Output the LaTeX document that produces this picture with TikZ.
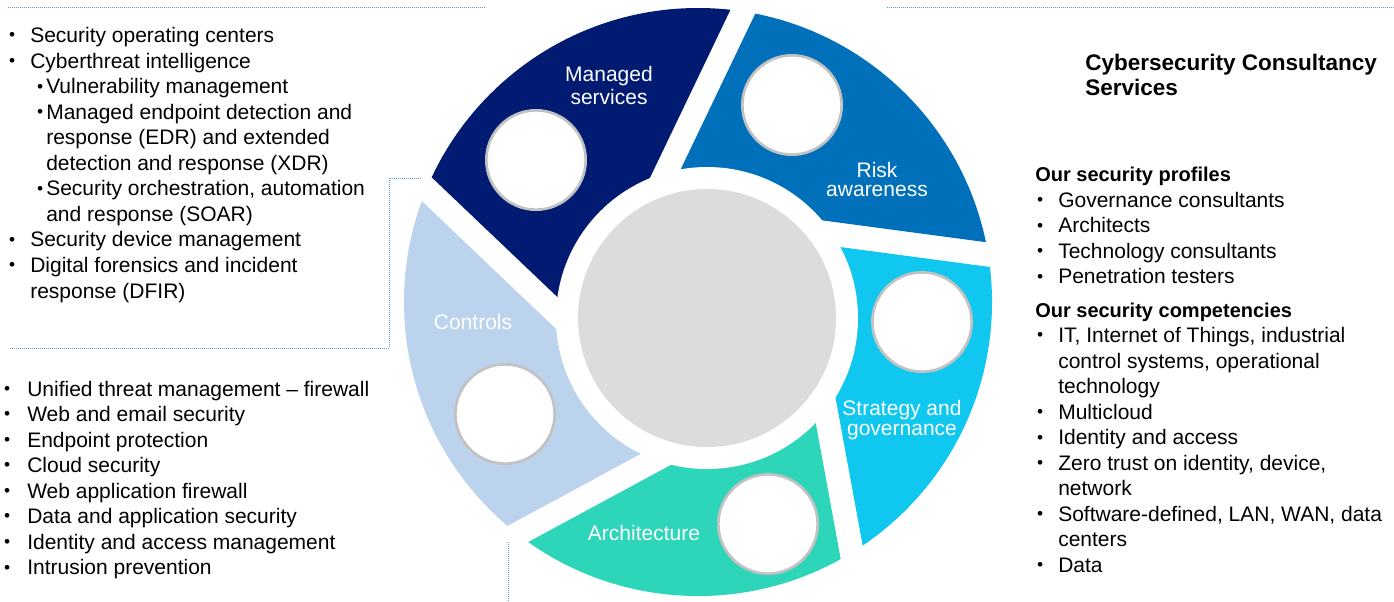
\documentclass[tikz,border=0pt]{standalone}
\usepackage{fontspec}
\setmainfont{Liberation Sans}
\usetikzlibrary{calc}

\definecolor{managednavy}{HTML}{001B71}
\definecolor{riskblue}{HTML}{0070BA}
\definecolor{strategycyan}{HTML}{10C8EF}
\definecolor{archteal}{HTML}{2DD5B9}
\definecolor{controlsblue}{HTML}{BCD3EE}
\definecolor{hubgrey}{HTML}{DCDCDC}
\definecolor{iconrim}{HTML}{C2C2C2}
\definecolor{guideblue}{HTML}{5B9BD5}

% body text and list helpers
\newcommand\bodyfont{\fontsize{15.75}{19.15}\selectfont}
\newcommand\dotmark{\raisebox{1.3pt}{\fontsize{13}{13}\selectfont\textbullet}}
% #1 bullet centre, #2 text start, #3 text
\newcommand\pointline[3]{\makebox[#2][l]{\hspace*{#1}\makebox[0pt][c]{\dotmark}}#3}
\newcommand\contline[2]{\hspace*{#1}#2}

% one ring segment: #1 = angle of its clockwise cut (deg), #2 = colour
\newcommand\ringsegment[2]{%
  \begin{scope}
    \coordinate (v) at ($(hubc)+({-(#1)-116.6}:125.3)$);
    \clip (v) -- ($(v)+({-(#1)}:900)$) -- ($(v)+({-(#1)-36}:1100)$)
          -- ($(v)+({-(#1)-72}:900)$) -- cycle;
    \fill[#2] (outerc) circle[radius=294];
  \end{scope}}

\begin{document}
\begin{tikzpicture}[x=0.75pt,y=-0.75pt,
  icon/.style={circle,draw=iconrim,line width=2pt,fill=white,minimum size=74.5pt,inner sep=0pt},
  hub/.style={circle,fill=hubgrey,minimum size=193.5pt,inner sep=0pt},
  ringlabel/.style={text=white,font=\fontsize{15.75}{18}\selectfont,inner sep=0pt,anchor=base},
  guide/.style={draw=guideblue,line width=0.75pt,dash pattern=on 0.75pt off 0.75pt},
  listnode/.style={inner sep=0pt,anchor=base west}
]
\useasboundingbox (0,0) rectangle (1394,601);

\coordinate (hubc) at (707,318);
\coordinate (outerc) at (698,302);

% ring
\ringsegment{64.4}{managednavy}
\ringsegment{-7.6}{riskblue}
\ringsegment{280.4}{strategycyan}
\ringsegment{208.4}{archteal}
\ringsegment{136.4}{controlsblue}
\fill[white] (hubc) circle[radius=151];
\node[hub] (hub) at (hubc) {};

% icon placeholders
\node[icon] (msicon) at (536,160) {};
\node[icon] (raicon) at (792,105) {};
\node[icon] (sgicon) at (922,322) {};
\node[icon] (aricon) at (768,524) {};
\node[icon] (cticon) at (505,414) {};

% segment labels
\node[ringlabel] (mslabel1) at (609,81.7) {Managed};
\node[ringlabel] (mslabel2) at (609,104) {services};
\node[ringlabel] (ralabel1) at (877,177.5) {Risk};
\node[ringlabel] (ralabel2) at (877,196) {awareness};
\node[ringlabel] (sglabel1) at (902,415) {Strategy and};
\node[ringlabel] (sglabel2) at (902,435) {governance};
\node[ringlabel] (arlabel) at (644,540.7) {Architecture};
\node[ringlabel] (ctlabel) at (473,329) {Controls};

% guide lines
\coordinate (gtl1) at (8,7);     \coordinate (gtl2) at (486,7);
\coordinate (gtr1) at (887,7);   \coordinate (gtr2) at (1394,7);
\coordinate (gl1) at (421,178);  \coordinate (gl2) at (389,178);
\coordinate (gl3) at (389,348);  \coordinate (gl4) at (10,348);
\coordinate (gb1) at (508,542);  \coordinate (gb2) at (508,601);
\draw[guide] (gtl1) -- (gtl2);
\draw[guide] (gtr1) -- (gtr2);
\draw[guide] (gl1) -- (gl2) -- (gl3) -- (gl4);
\draw[guide] (gb1) -- (gb2);

% managed services list
\node[listnode] (mslist) at (0,42.7) {\bodyfont
\begin{tabular}[t]{@{}l@{}}
\pointline{9pt}{22.5pt}{Security operating centers}\\
\pointline{9pt}{22.5pt}{Cyberthreat intelligence}\\
\pointline{30pt}{34.5pt}{Vulnerability management}\\
\pointline{30pt}{34.5pt}{Managed endpoint detection and}\\
\contline{34.5pt}{response (EDR) and extended}\\
\contline{34.5pt}{detection and response (XDR)}\\
\pointline{30pt}{34.5pt}{Security orchestration, automation}\\
\contline{34.5pt}{and response (SOAR)}\\
\pointline{9pt}{22.5pt}{Security device management}\\
\pointline{9pt}{22.5pt}{Digital forensics and incident}\\
\contline{22.5pt}{response (DFIR)}
\end{tabular}};

% controls list
\node[listnode] (ctlist) at (0,396) {\bodyfont
\begin{tabular}[t]{@{}l@{}}
\pointline{5.25pt}{20.25pt}{Unified threat management -- firewall}\\
\pointline{5.25pt}{20.25pt}{Web and email security}\\
\pointline{5.25pt}{20.25pt}{Endpoint protection}\\
\pointline{5.25pt}{20.25pt}{Cloud security}\\
\pointline{5.25pt}{20.25pt}{Web application firewall}\\
\pointline{5.25pt}{20.25pt}{Data and application security}\\
\pointline{5.25pt}{20.25pt}{Identity and access management}\\
\pointline{5.25pt}{20.25pt}{Intrusion prevention}
\end{tabular}};

% consultancy block
\node[listnode,font=\fontsize{16.9}{18.75}\selectfont\bfseries] (title1) at (1085,70) {Cybersecurity Consultancy};
\node[listnode,font=\fontsize{16.9}{18.75}\selectfont\bfseries] (title2) at (1085,95) {Services};

\node[listnode] (cslist) at (1035,181.7) {\bodyfont
\begin{tabular}[t]{@{}l@{}}
{\fontsize{15}{19.15}\selectfont\bfseries Our security profiles}\\
\pointline{3.75pt}{17.25pt}{Governance consultants}\\
\pointline{3.75pt}{17.25pt}{Architects}\\
\pointline{3.75pt}{17.25pt}{Technology consultants}\\
\pointline{3.75pt}{17.25pt}{Penetration testers}\\[5.8pt]
{\fontsize{15}{19.15}\selectfont\bfseries Our security competencies}\\
\pointline{3.75pt}{17.25pt}{IT, Internet of Things, industrial}\\
\contline{17.25pt}{control systems, operational}\\
\contline{17.25pt}{technology}\\
\pointline{3.75pt}{17.25pt}{Multicloud}\\
\pointline{3.75pt}{17.25pt}{Identity and access}\\
\pointline{3.75pt}{17.25pt}{Zero trust on identity, device,}\\
\contline{17.25pt}{network}\\
\pointline{3.75pt}{17.25pt}{Software-defined, LAN, WAN, data}\\
\contline{17.25pt}{centers}\\
\pointline{3.75pt}{17.25pt}{Data}
\end{tabular}};
\end{tikzpicture}
\end{document}
